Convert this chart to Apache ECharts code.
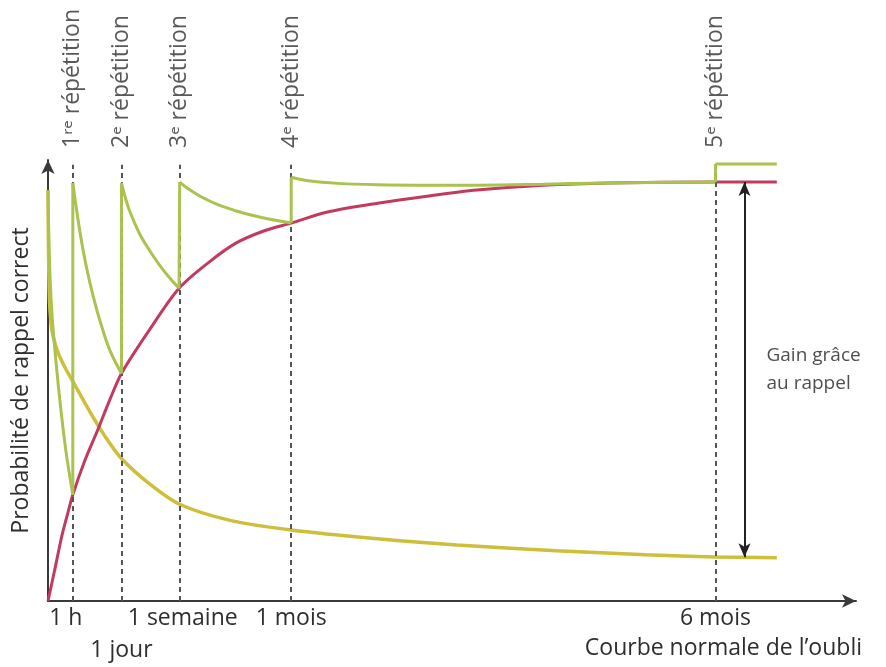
<!DOCTYPE html>
<html>
<head>
<meta charset="utf-8">
<script src="https://cdn.jsdelivr.net/npm/echarts@6/dist/echarts.min.js"></script>
<style>html,body{margin:0;padding:0;background:#fff}#c{width:886px;height:667px}</style>
</head>
<body>
<div id="c"></div>
<script>
// positions of events along the (schematic) time axis, 0..100
const repPositions = [3.07, 9.09, 16.3, 30.1, 82.6];
const repLabels = ['1ʳᵉ répétition', '2ᵉ répétition', '3ᵉ répétition', '4ᵉ répétition', '5ᵉ répétition'];
const tickLabels = ['1 h', '1 jour', '1 semaine', '1 mois', '6 mois'];
const upperTickPositions = [3.07, 16.3, 30.1, 82.6];
const lowerTickPositions = [9.09];
const xAxisTitle = 'Courbe normale de l\u2019oubli';
const yAxisTitle = 'Probabilité de rappel correct';

// normal forgetting curve (yellow)
const forgetting = [[0,93.2],[0.06,79.5],[0.18,68.2],[0.37,63.2],[0.61,60.2],[1.23,56.4],[2.09,53.0],[3.07,49.8],[5.16,43.0],[7.0,37.5],[9.09,32.3],[12.53,26.6],[16.22,22.0],[22.3,18.4],[30.1,16.1],[40.8,14.1],[50.6,12.7],[62.9,11.4],[73.95,10.5],[82.6,10.0],[90.2,9.8]];

// consolidated level reached thanks to recall (red)
const consolidated = [[0,0],[0.86,7.3],[1.72,14.8],[2.46,20.0],[3.07,24.1],[4.55,31.8],[6.02,38.2],[7.62,45.5],[9.09,51.6],[12.53,61.4],[16.22,70.9],[19.9,76.8],[23.2,81.1],[26.7,83.9],[30.1,85.7],[34.6,88.2],[40.8,90.2],[46.9,91.8],[53.1,93.2],[61.3,94.3],[69.4,94.8],[82.6,95.0],[90.2,95.0]];

// recall with repetitions (green): decays between repetitions (null = break)
const repetitionDecay = [
  [0,93.2],[0.1,83.0],[0.25,73.5],[0.5,64.8],[0.86,56.8],[1.47,45.5],[2.21,34.1],[3.07,24.1], [null, null],
  [3.07,94.8],[3.69,86.8],[4.3,80.0],[4.91,74.4],[5.53,69.6],[6.39,63.8],[7.62,57.0],[9.09,51.6], [null, null],
  [9.09,94.8],[9.58,91.4],[10.07,88.6],[11.3,83.4],[12.53,79.6],[13.76,76.3],[14.99,73.4],[16.22,70.9], [null, null],
  [16.3,95.0],[17.4,93.4],[19.0,91.6],[21.1,89.8],[23.2,88.5],[25.4,87.4],[27.3,86.6],[30.1,85.7], [null, null],
  [30.1,96.1],[32.2,95.3],[35.9,94.7],[40.8,94.4],[46.9,94.3],[53.1,94.3],[61.3,94.5],[69.4,94.8],[82.6,95.0], [null, null],
  [82.6,99.1],[90.2,99.1]
];
// recall with repetitions (green): jumps at each repetition
const repetitionJumps = [
  [3.07,24.1],[3.07,94.8],[null,null],
  [9.09,51.6],[9.09,94.8],[null,null],
  [16.22,70.9],[16.3,95.0],[null,null],
  [30.1,85.7],[30.1,96.1],[null,null],
  [82.6,95.0],[82.6,99.1]
];

// gain arrow
const gainX = 86.2;
const gainTop = 95.0;
const gainBottom = 9.9;
const gainLabel = 'Gain grâce\nau rappel';

const FONT = '"Open Sans", "Noto Sans", sans-serif';
const TXT = '#2e2e2e';
const FS = 23;
const GREEN = '#aac24e';

function tickText(v) {
  const i = repPositions.indexOf(v);
  if (i === 0) return '{l|' + tickLabels[i] + '}';
  if (i === 2) return '{r|' + tickLabels[i] + '}';
  return i >= 0 ? tickLabels[i] : '';
}

const labelRich = {
  l: { fontFamily: FONT, fontSize: FS, color: TXT, padding: [0, 14, 0, 0] },
  r: { fontFamily: FONT, fontSize: FS, color: TXT, padding: [0, 0, 0, 6] }
};

const chart = echarts.init(document.getElementById('c'));
chart.setOption({
  animation: false,
  backgroundColor: '#fff',
  grid: { left: 48, right: 30, top: 160, bottom: 66, containLabel: false, outerBoundsMode: 'none' },
  graphic: [{
    type: 'text', right: 24, top: 637,
    style: { text: xAxisTitle, fill: TXT, font: FS + 'px ' + FONT }
  }],
  xAxis: [{
    type: 'value', min: 0, max: 100,
    splitLine: { show: false },
    axisTick: { show: false },
    axisLine: { lineStyle: { color: '#3a3a3a', width: 2 }, symbol: ['none', 'arrow'], symbolSize: [10, 14] },
    axisLabel: {
      customValues: upperTickPositions,
      showMinLabel: true, showMaxLabel: true, hideOverlap: false,
      margin: 6,
      color: TXT, fontFamily: FONT, fontSize: FS,
      formatter: tickText, rich: labelRich
    }
  }, {
    type: 'value', min: 0, max: 100, position: 'bottom',
    splitLine: { show: false },
    axisTick: { show: false },
    axisLine: { show: false },
    axisLabel: {
      customValues: lowerTickPositions,
      showMinLabel: true, showMaxLabel: true, hideOverlap: false,
      margin: 38,
      color: TXT, fontFamily: FONT, fontSize: FS,
      formatter: tickText, rich: labelRich
    }
  }],
  yAxis: {
    type: 'value', min: 0, max: 100,
    splitLine: { show: false },
    axisTick: { show: false },
    axisLabel: { show: false },
    axisLine: { lineStyle: { color: '#3a3a3a', width: 2 }, symbol: ['none', 'arrow'], symbolSize: [10, 14] },
    name: yAxisTitle,
    nameLocation: 'middle',
    nameGap: 15,
    nameTextStyle: { color: TXT, fontFamily: FONT, fontSize: FS }
  },
  series: [
    {
      name: 'repetitions', type: 'scatter', z: 1,
      symbolSize: 0,
      data: repPositions.map(function (x) { return [x, 100]; }),
      label: {
        show: true, position: 'top', rotate: 90, align: 'left', verticalAlign: 'middle', distance: 12,
        color: TXT, fontFamily: FONT, fontSize: FS,
        formatter: function (p) { return repLabels[p.dataIndex]; }
      },
      markLine: {
        silent: true, symbol: 'none',
        label: { show: false },
        lineStyle: { color: '#555', width: 2, type: [5, 4] },
        data: repPositions.map(function (x) { return [{ coord: [x, 0] }, { coord: [x, 98.9] }]; })
      }
    },
    {
      name: 'forgetting', type: 'line', z: 3,
      data: forgetting, smooth: 0.3, showSymbol: false,
      lineStyle: { color: '#cdbf3a', width: 3.5 }
    },
    {
      name: 'consolidated', type: 'line', z: 4,
      data: consolidated, smooth: 0.3, showSymbol: false,
      lineStyle: { color: '#c23a5e', width: 3 }
    },
    {
      name: 'repetitionDecay', type: 'line', z: 5,
      data: repetitionDecay, smooth: 0.35, connectNulls: false, showSymbol: false,
      lineStyle: { color: GREEN, width: 3 }
    },
    {
      name: 'repetitionJumps', type: 'line', z: 5,
      data: repetitionJumps, smooth: false, connectNulls: false, showSymbol: false,
      lineStyle: { color: GREEN, width: 3 }
    },
    {
      name: 'gain', type: 'scatter', z: 6,
      symbolSize: 0,
      data: [[gainX, (gainTop + gainBottom) / 2 + 0.1]],
      label: {
        show: true, position: 'right', distance: 22, align: 'left',
        color: '#222', fontFamily: FONT, fontSize: 19, lineHeight: 28,
        formatter: gainLabel
      },
      markLine: {
        silent: true,
        symbol: ['arrow', 'arrow'], symbolSize: [9, 14],
        label: { show: false },
        lineStyle: { color: '#222', width: 2, type: 'solid' },
        data: [[{ coord: [gainX, gainTop] }, { coord: [gainX, gainBottom] }]]
      }
    }
  ]
});
</script>
</body>
</html>
